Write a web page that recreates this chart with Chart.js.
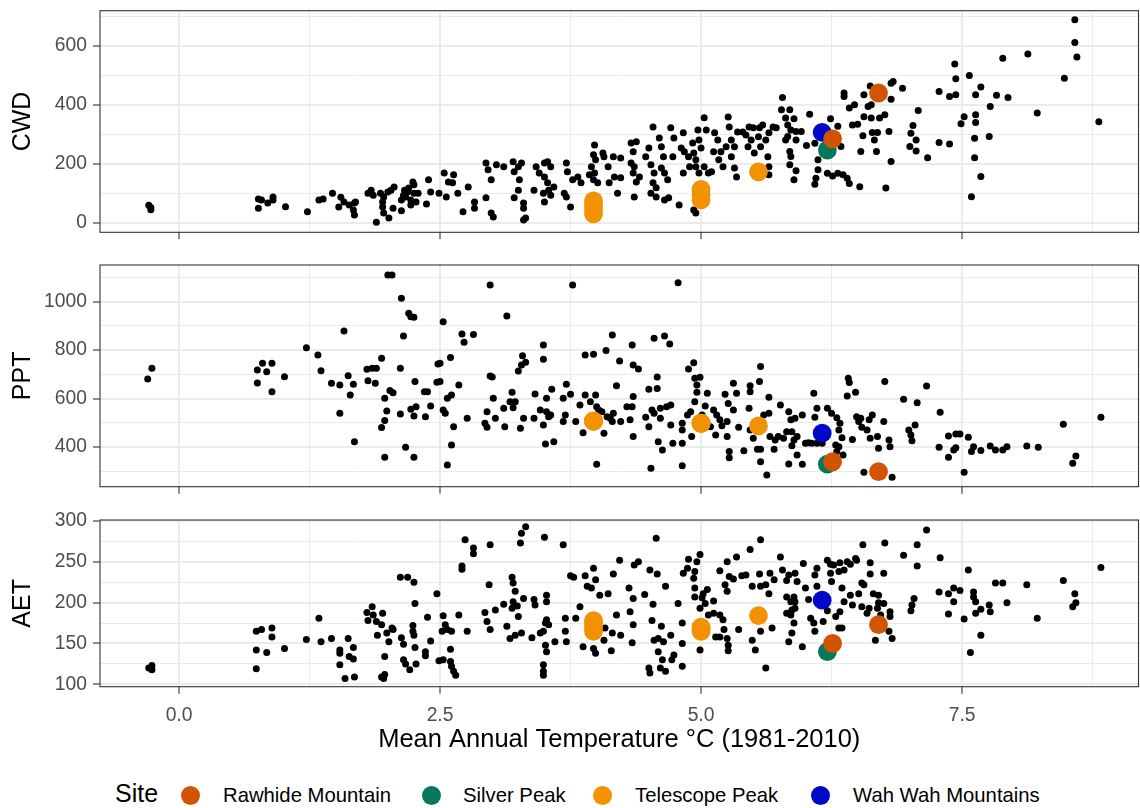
<!DOCTYPE html>
<html>
<head>
<meta charset="utf-8">
<script src="https://cdn.jsdelivr.net/npm/chart.js@4.4.0/dist/chart.umd.min.js"></script>
<style>
  body { margin: 0; background: #fff; font-family: 'Liberation Sans', Arial, sans-serif; }
  #wrap { position: relative; width: 1140px; height: 808px; overflow: hidden; }
  canvas { position: absolute; left: 0; }
  .lg { position: absolute; white-space: nowrap; line-height: 1; color: #000; }
  .dot { position: absolute; width: 19px; height: 19px; border-radius: 50%; }
</style>
</head>
<body>
<div id="wrap">
  <canvas id="cwdChart" width="1140" height="250" style="top:0"></canvas>
  <canvas id="pptChart" width="1140" height="250" style="top:250px"></canvas>
  <canvas id="aetChart" width="1140" height="260" style="top:500px"></canvas>
  <div id="legend"></div>
</div>
<script>
// sites: mean annual temperature vs climate water balance
const cwdTemp = [
  -0.29, -0.27, -0.27,
  0.76, 0.76, 0.79, 0.85, 0.90, 0.90, 1.02, 1.23, 1.34, 1.38, 1.47,
  1.55, 1.53, 1.58, 1.63, 1.68, 1.69, 1.67, 1.68,
  1.81, 1.84, 1.86, 1.93, 1.96, 1.95, 2.00, 2.03, 2.06, 1.95, 1.96, 2.01, 2.05, 1.89,
  2.13, 2.15, 2.16, 2.17, 2.19, 2.20, 2.24, 2.25, 2.22, 2.25, 2.29, 2.13, 2.22, 2.27,
  2.37, 2.39, 2.41, 2.49,
  2.54, 2.63, 2.58, 2.62, 2.56, 2.67,
  2.77, 2.83, 2.83, 2.72,
  2.94, 2.96, 3.04, 2.99, 2.94, 2.99, 3.01,
  3.11, 3.20, 3.25, 3.28, 3.21, 3.26, 3.25, 3.21, 3.30, 3.30, 3.32, 3.30,
  3.40, 3.42, 3.45, 3.50, 3.53, 3.56, 3.50, 3.53, 3.54, 3.56, 3.50, 3.49, 3.59,
  3.71, 3.72, 3.69, 3.71, 3.75, 3.77, 3.82, 3.85,
  3.98, 3.97, 3.99, 3.95, 3.98, 3.97, 4.01, 3.93, 4.06, 4.07, 4.11, 4.12, 4.16, 4.17,
  4.23, 4.20, 4.23, 4.33, 4.38, 4.35, 4.33, 4.36, 4.35, 4.38, 4.36, 4.41,
  4.47, 4.50, 4.52, 4.54, 4.55, 4.54, 4.57, 4.52, 4.57, 4.60, 4.62, 4.64, 4.62, 4.65, 4.68, 4.71, 4.73, 4.65, 4.69, 4.74, 4.79,
  4.83, 4.81, 4.84, 4.83, 4.88, 4.89, 4.92, 4.93, 4.95, 4.97, 4.98, 5.00, 4.95, 4.98, 5.03, 5.05, 5.03, 5.07, 5.10, 5.12, 5.13, 4.93, 4.95,
  5.16, 5.17, 5.19, 5.21, 5.24, 5.26, 5.27, 5.29, 5.29, 5.32, 5.32, 5.34, 5.35, 5.40, 5.43, 5.45,
  5.46, 5.50, 5.48, 5.51, 5.55, 5.56, 5.57, 5.59, 5.62, 5.65, 5.64, 5.65, 5.65, 5.69, 5.72,
  5.78, 5.77, 5.85, 5.81, 5.89, 5.83, 5.86, 5.91, 5.96, 5.83, 5.91, 5.81, 5.85, 5.86, 5.85, 5.91, 5.89,
  6.04, 6.01, 6.09, 6.12, 6.12, 6.10, 6.09,
  6.24, 6.31, 6.34, 6.21, 6.26, 6.31, 6.36, 6.40, 6.42, 6.52,
  6.37, 6.37, 6.42, 6.47, 6.56, 6.60, 6.63, 6.62, 6.56,
  6.45, 6.50, 6.55, 6.64, 6.69, 6.63, 6.71, 6.76, 6.66, 6.53, 6.68,
  6.80, 6.82, 6.82, 6.84, 6.93, 6.82, 6.77,
  7.08, 7.03, 7.01, 7.06, 7.00, 7.06, 7.17,
  7.28, 7.38, 7.44, 7.43, 7.44, 7.57, 7.68, 7.63, 7.83, 7.94, 7.77,
  7.52, 7.63, 7.49, 7.63, 7.62, 7.76, 7.28, 7.38, 7.62, 7.68, 7.59,
  7.89, 8.13, 8.22, 8.48, 8.58, 8.58, 8.60, 8.81
];
const cwdValue = [
  60, 52, 45,
  81, 50, 78, 68, 88, 78, 55, 38, 78, 81, 101,
  87, 54, 71, 61, 68, 71, 44, 27,
  101, 111, 94, 101, 88, 71, 105, 111, 122, 54, 34, 17, 50, 2,
  78, 94, 111, 88, 105, 118, 139, 129, 78, 101, 101, 41, 61, 71,
  64, 146, 105, 101,
  169, 163, 139, 136, 88, 101,
  122, 50, 71, 38,
  203, 180, 197, 146, 85, 34, 20,
  190, 207, 190, 203, 173, 146, 111, 85, 68, 50, 17, 10,
  111, 190, 169, 203, 207, 190, 156, 136, 111, 94, 71, 101, 122,
  203, 173, 101, 88, 54, 146, 156, 136,
  264, 231, 214, 190, 169, 146, 136, 163, 237, 224, 190, 136, 224, 156,
  220, 101, 153, 271, 275, 241, 203, 190, 169, 139, 88, 156,
  224, 254, 197, 325, 169, 136, 119, 101, 88, 288, 258, 224, 186, 169, 146, 322, 224, 78, 85, 288, 61,
  305, 254, 241, 169, 224, 190, 271, 237, 214, 315, 281, 254, 190, 169, 190, 315, 356, 169, 173, 241, 305, 44, 34,
  281, 214, 241, 190, 258, 359, 325, 281, 224, 258, 186, 156, 308, 308, 298, 258,
  325, 322, 281, 237, 292, 322, 258, 332, 281, 305, 224, 190, 163, 325, 322,
  425, 383, 383, 355, 353, 332, 315, 310, 310, 293, 281, 281, 242, 225, 197, 177, 146,
  368, 262, 270, 214, 180, 151, 131,
  353, 327, 259, 168, 159, 168, 163, 151, 134, 123,
  440, 428, 389, 400, 360, 394, 400, 464, 434,
  332, 334, 295, 306, 306, 355, 355, 366, 281, 242, 242,
  310, 419, 473, 479, 456, 208, 118,
  381, 330, 304, 281, 259, 244, 221,
  445, 428, 434, 538, 488, 499, 460, 434, 432, 425, 394,
  360, 366, 336, 340, 287, 293, 272, 267, 221, 157, 89,
  558, 572, 372, 490, 688, 611, 562, 343
];

const pptTemp = [
  -0.30, -0.26,
  0.75, 0.75, 0.80, 0.84, 0.89, 0.89, 1.01,
  1.22, 1.33, 1.36,
  1.46, 1.54, 1.54, 1.58, 1.62, 1.64, 1.67, 1.68,
  1.80, 1.81, 1.85, 1.88, 1.89, 1.94, 1.94, 1.97, 1.97, 1.99, 1.97, 2.02, 2.05, 2.00, 2.04,
  2.12, 2.13, 2.15, 2.12, 2.17, 2.20, 2.22, 2.25, 2.22, 2.25, 2.26, 2.27, 2.25, 2.35, 2.38, 2.36, 2.41, 2.47, 2.48,
  2.50, 2.50, 2.53, 2.53, 2.55, 2.57, 2.61, 2.60, 2.68, 2.63, 2.61, 2.57, 2.71, 2.73, 2.82, 2.76,
  2.95, 2.93, 2.95, 3.03, 2.98, 3.00, 3.01, 2.98, 3.14, 3.11, 3.12, 3.17, 3.19, 3.22, 3.20, 3.25, 3.28, 3.29, 3.32, 3.27, 3.30,
  3.40, 3.41, 3.46, 3.49, 3.49, 3.49, 3.52, 3.52, 3.56, 3.54, 3.57, 3.51, 3.59,
  3.68, 3.70, 3.68, 3.71, 3.75, 3.80, 3.77, 3.84, 3.87, 3.89, 3.89, 3.97, 3.94,
  3.99, 4.00, 4.02, 4.05, 4.00, 4.07, 4.09, 4.10, 4.13, 4.15, 4.16, 4.15,
  4.22, 4.19, 4.23, 4.29, 4.34, 4.32, 4.34, 4.35, 4.35, 4.40, 4.35,
  4.47, 4.50, 4.50, 4.53, 4.55, 4.55, 4.58, 4.58, 4.61, 4.61, 4.59, 4.63, 4.65, 4.70, 4.67, 4.71, 4.71, 4.73, 4.52, 4.78,
  4.82, 4.82, 4.82, 4.82, 4.87, 4.88, 4.90, 4.93, 4.94, 4.96,
  4.96, 4.94, 4.91, 4.99, 5.01, 5.06, 5.04, 5.09, 5.12, 5.14,
  5.15, 5.18, 5.20, 5.23, 5.25, 5.25, 5.26, 5.27, 5.27, 5.31,
  5.31, 5.34, 5.36, 5.41, 5.46, 5.47, 5.47, 5.47, 5.50, 5.54,
  5.57, 5.57, 5.56, 5.57, 5.63, 5.60, 5.65, 5.65, 5.66, 5.70,
  5.71, 5.74,
  5.76, 5.84, 5.86, 5.90, 5.97, 5.82, 5.87, 5.79, 5.89, 5.87,
  5.92, 6.00, 6.03, 6.06, 6.11, 6.16, 6.08, 6.11, 6.09, 6.21,
  6.25, 6.30, 6.33, 6.32, 6.35, 6.29, 6.32, 6.30, 6.36, 6.45,
  6.40, 6.41, 6.42, 6.48, 6.49, 6.53, 6.51, 6.54, 6.59, 6.61,
  6.64, 6.62, 6.69, 6.70, 6.75, 6.76, 6.80, 6.81, 5.92, 5.84,
  5.97, 6.56, 6.83, 6.94, 7.07, 7.16, 7.29, 6.99, 7.01, 7.02,
  7.05, 7.28, 7.37, 7.44, 7.48, 7.56, 7.37, 7.42, 7.44, 7.59,
  7.61, 7.68, 7.77, 7.82, 7.89, 7.93, 8.12, 8.23, 8.47, 8.83,
  8.59, 8.56, 7.52
];
const pptValue = [
  681, 725,
  664, 718, 746, 711, 746, 628, 690,
  810, 780, 715,
  663, 656, 539, 879, 694, 615, 659, 422,
  721, 673, 725, 663, 725, 766, 480, 601, 509, 549, 358, 633, 624, 1110, 1110,
  725, 1014, 858, 536, 399, 952, 938, 936, 556, 528, 670, 566, 358, 628, 628, 525, 569, 667, 743,
  746, 670, 917, 553, 539, 601, 615, 770, 656, 484, 408, 326, 867, 832, 865, 519,
  546, 498, 481, 519, 693, 689, 601, 1069, 941, 560, 484, 587, 626, 587, 562, 714, 739, 777, 750, 477, 519,
  519, 619, 553, 821, 762, 491, 601, 546, 532, 525, 638, 412, 422,
  601, 532, 505, 659, 618, 505, 1069, 573, 459, 780, 615, 783, 587,
  615, 566, 553, 546, 329, 457, 798, 525, 519, 862, 539, 505,
  755, 653, 505, 566, 821, 512, 566, 608, 739, 722, 443,
  523, 484, 638, 553, 539, 849, 689, 642, 560, 519, 422, 388, 858, 825, 566, 573, 491, 415, 312, 1078,
  498, 470, 415, 323, 532, 722, 546, 748, 684, 656,
  626, 587, 443, 688, 532, 622, 569, 484, 553, 450,
  532, 512, 488, 618, 505, 443, 580, 381, 356, 663,
  553, 622, 481, 384, 560, 653, 628, 470, 436, 391,
  391, 732, 670, 339, 284, 532, 605, 539, 443, 391,
  429, 443,
  573, 546, 512, 519, 532, 463, 463, 436, 429, 405,
  443, 415, 418, 415, 415, 415, 622, 560, 523, 560,
  539, 521, 498, 470, 438, 408, 401, 381, 367, 431,
  611, 684, 666, 626, 525, 519, 505, 481, 470, 512,
  532, 436, 443, 395, 505, 670, 429, 401, 367, 330,
  329, 296, 275, 597, 583, 652, 543, 470, 450, 426,
  491, 399, 445, 454, 454, 440, 358, 388, 397, 381,
  401, 385, 404, 388, 388, 401, 404, 399, 494, 523,
  363, 333, 296
];

const aetTemp = [
  -0.29, -0.26, -0.26,
  0.74, 0.79, 0.74, 0.74, 0.84, 0.89, 0.89, 1.01, 1.22, 1.34,
  1.36, 1.46, 1.54, 1.54, 1.54, 1.62, 1.63, 1.67, 1.67, 1.59,
  1.68, 1.80, 1.85, 1.86, 1.81, 1.89, 1.94, 1.95, 1.90, 1.99,
  2.01, 2.04, 2.05, 1.97, 1.94, 1.96, 1.97, 2.12, 2.19, 2.25,
  2.26, 2.24, 2.24, 2.25, 2.26, 2.13, 2.15, 2.15, 2.17, 2.21,
  2.27, 2.36, 2.36, 2.38, 2.41, 2.47, 2.49, 2.53, 2.55, 2.57,
  2.52, 2.61, 2.68, 2.60, 2.53, 2.60, 2.61, 2.63, 2.65, 2.74,
  2.82, 2.82, 2.71, 2.71, 2.76, 2.98, 2.97, 2.93, 2.95, 2.98,
  3.03, 3.11, 3.14, 3.19, 3.20, 3.22, 3.20, 3.19, 3.24, 3.25,
  3.17, 3.22, 3.28, 3.30, 3.27, 3.28, 3.32, 3.40, 3.41, 3.38,
  3.46, 3.50, 3.52, 3.52, 3.52, 3.51, 3.54, 3.49, 3.51, 3.52,
  3.49, 3.49, 3.49, 3.60, 3.68, 3.70, 3.70, 3.71, 3.75, 3.78,
  3.80, 3.84, 3.89, 3.91, 3.97, 3.99, 3.95, 4.03, 3.87, 3.97,
  3.99, 4.07, 4.08, 4.11, 4.15, 4.14, 4.16, 4.19, 4.23, 4.22,
  4.31, 4.32, 4.35, 4.35, 4.34, 4.36, 4.40, 4.46, 4.51, 4.58,
  4.54, 4.53, 4.57, 4.66, 4.62, 4.55, 4.59, 4.64, 4.59, 4.63,
  4.50, 4.51, 4.61, 4.66, 4.71, 4.74, 4.72, 4.78, 4.83, 4.82,
  4.82, 4.82, 4.88, 4.87, 4.94, 4.93, 4.94, 4.94, 4.96, 4.99,
  4.99, 5.01, 5.02, 5.04, 5.06, 5.12, 5.07, 5.12, 5.18, 5.21,
  5.22, 5.18, 5.14, 5.25, 5.26, 5.26, 4.99, 5.18, 5.25, 5.27,
  5.31, 5.34, 5.36, 5.23, 5.25, 5.39, 5.43, 5.47, 5.49, 5.57,
  5.56, 5.57, 5.57, 5.62, 5.66, 5.65, 5.68, 5.70, 5.49, 5.52,
  5.62, 5.76, 5.78, 5.84, 5.90, 5.82, 5.92, 5.82, 5.89, 5.86,
  5.90, 5.87, 5.82, 5.86, 5.90, 5.89, 5.87, 5.84, 5.97, 5.98,
  6.00, 6.03, 6.05, 6.08, 6.09, 6.11, 6.09, 6.11, 6.21, 6.24,
  6.27, 6.24, 6.25, 6.33, 6.32, 6.37, 6.40, 6.43, 6.48, 6.49,
  6.35, 6.43, 6.37, 6.33, 6.29, 6.32, 6.35, 6.21, 6.17, 6.45,
  6.51, 6.54, 6.54, 6.56, 6.62, 6.62, 6.75, 6.55, 6.65, 6.70,
  6.70, 6.69, 6.61, 6.59, 6.72, 6.81, 6.81, 6.80, 6.83, 6.67,
  6.75, 6.94, 7.07, 7.07, 6.76, 7.16, 7.29, 7.04, 7.02, 7.01,
  7.28, 7.37, 7.42, 7.48, 7.42, 7.37, 7.52, 7.56, 7.61, 7.61,
  7.63, 7.63, 7.68, 7.76, 7.77, 7.82, 7.89, 7.93, 8.12, 7.68,
  7.58, 8.22, 8.47, 8.58, 8.59, 8.56, 8.83
];
const aetValue = [
  120, 123, 118,
  165, 167, 142, 119, 139, 169, 158, 144, 155, 181,
  152, 156, 142, 138, 124, 156, 134, 145, 131, 107,
  109, 188, 195, 185, 178, 177, 173, 187, 160, 163,
  152, 169, 167, 134, 109, 107, 112, 231, 231, 225,
  199, 172, 165, 160, 145, 157, 149, 130, 125, 118,
  125, 140, 135, 182, 153, 211, 129, 184, 173, 167,
  165, 165, 185, 143, 130, 128, 122, 116, 111, 277,
  267, 260, 245, 241, 165, 271, 222, 188, 177, 167,
  191, 198, 171, 231, 224, 214, 201, 193, 196, 183,
  156, 160, 163, 205, 273, 285, 293, 204, 197, 157,
  163, 280, 209, 201, 179, 175, 173, 165, 148, 140,
  124, 116, 111, 152, 271, 181, 165, 152, 233, 231,
  181, 195, 233, 220, 242, 228, 218, 209, 146, 144,
  138, 154, 169, 211, 163, 141, 235, 185, 160, 252,
  218, 189, 205, 173, 151, 246, 250, 210, 240, 235,
  198, 178, 279, 220, 171, 154, 156, 152, 140, 130,
  120, 114, 120, 116, 160, 136, 130, 199, 236, 150,
  122, 175, 253, 242, 238, 230, 218, 207, 250, 259,
  193, 206, 211, 199, 216, 202, 185, 187, 185, 179,
  167, 158, 158, 156, 148, 141, 142, 239, 250, 232,
  229, 256, 167, 222, 214, 233, 234, 265, 220, 277,
  235, 220, 165, 222, 236, 211, 169, 228, 154, 142,
  120, 256, 240, 234, 236, 227, 226, 207, 207, 201,
  201, 191, 187, 185, 193, 175, 163, 152, 146, 248,
  218, 204, 181, 175, 165, 242, 234, 220, 252, 247,
  246, 236, 226, 249, 238, 240, 250, 247, 254, 252,
  218, 209, 201, 189, 183, 169, 169, 190, 177, 197,
  211, 195, 224, 222, 249, 235, 236, 271, 211, 209,
  200, 193, 193, 187, 185, 189, 183, 165, 156, 154,
  199, 258, 271, 245, 273, 289, 255, 205, 197, 190,
  213, 211, 218, 215, 201, 186, 180, 240, 213, 207,
  201, 187, 192, 197, 189, 224, 224, 200, 222, 160,
  139, 181, 227, 211, 200, 195, 243
];

// highlighted study sites
const siteNames = ['Rawhide Mountain', 'Silver Peak', 'Telescope Peak', 'Wah Wah Mountains'];
const siteColors = ['#D35400', '#03785A', '#F29200', '#0008C8'];

const rawhideTemp = [6.26, 6.70];
const rawhideCwd = [285, 440];
const rawhidePpt = [339, 298];
const rawhideAet = [150, 173];

const silverTemp = [6.21];
const silverCwd = [247];
const silverPpt = [329];
const silverAet = [140];

const telescopeTemp = [3.97, 3.97, 3.97, 3.97, 5.00, 5.00, 5.00, 5.55];
const telescopeCwd = [31, 45, 60, 75, 78, 96, 114, 173];
const telescopePpt = [507, 507, 507, 507, 498, 498, 498, 487];
const telescopeAet = [165, 171, 178, 175, 165, 170, 168, 184];

const wahwahTemp = [6.16];
const wahwahCwd = [307];
const wahwahPpt = [457];
const wahwahAet = [203];

const xTicks = [0, 1.25, 2.5, 3.75, 5, 6.25, 7.5, 8.75];
const xMajor = [0, 2.5, 5, 7.5];

Chart.defaults.font.family = "'Liberation Sans', Arial, sans-serif";

const siteTemps = [rawhideTemp, silverTemp, telescopeTemp, wahwahTemp];
const drawOrder = [0, 2, 1, 3]; // first dataset ends up on top

function toPoints(xs, ys) {
  return xs.map((x, i) => ({ x: x, y: ys[i] }));
}

function gridFor(majors) {
  const isMajor = c => c.tick && majors.indexOf(c.tick.value) >= 0;
  return {
    color: '#ebebeb',
    lineWidth: c => isMajor(c) ? 2 : 1,
    tickColor: c => isMajor(c) ? '#333333' : 'rgba(0,0,0,0)',
    tickWidth: 1.1,
    tickLength: 7,
    drawTicks: true
  };
}

const panelBorder = {
  id: 'panelBorder',
  afterDraw(chart) {
    const a = chart.chartArea;
    const ctx = chart.ctx;
    ctx.save();
    ctx.strokeStyle = '#333333';
    ctx.lineWidth = 1.1;
    ctx.strokeRect(a.left, a.top, a.right - a.left, a.bottom - a.top);
    ctx.restore();
  }
};

function makePanel(id, label, temps, values, siteVals, yMin, yMax, yTicks, yMajor, padTop, xHeight, showX) {
  const datasets = drawOrder.map(k => ({
    label: siteNames[k],
    data: toPoints(siteTemps[k], siteVals[k]),
    backgroundColor: siteColors[k],
    pointRadius: 9.4,
    pointHoverRadius: 9.4,
    borderWidth: 0
  }));
  datasets.push({
    label: 'other sites',
    data: toPoints(temps, values),
    backgroundColor: '#000000',
    pointRadius: 3.5,
    pointHoverRadius: 3.5,
    borderWidth: 0
  });

  return new Chart(document.getElementById(id), {
    type: 'scatter',
    data: { datasets: datasets },
    plugins: [panelBorder],
    options: {
      responsive: false,
      animation: false,
      devicePixelRatio: 1,
      events: [],
      layout: { autoPadding: false, padding: { left: 0, right: 1.5, top: padTop, bottom: 0 } },
      plugins: { legend: { display: false }, tooltip: { enabled: false } },
      scales: {
        x: {
          type: 'linear',
          min: -0.757,
          max: 9.19,
          afterBuildTicks: s => { s.ticks = xTicks.map(v => ({ value: v })); },
          afterFit: s => { s.height = xHeight; s.paddingLeft = 0; s.paddingRight = 0; },
          border: { display: false },
          grid: gridFor(xMajor),
          ticks: {
            display: showX,
            autoSkip: false,
            maxRotation: 0,
            padding: 10.5,
            color: '#4d4d4d',
            font: { size: 19.3 },
            callback: v => xMajor.indexOf(v) >= 0 ? v.toFixed(1) : ''
          },
          title: {
            display: showX,
            text: 'Mean Annual Temperature °C (1981-2010)',
            color: '#000000',
            font: { size: 25.5 },
            padding: { top: 0, bottom: 4.5 }
          }
        },
        y: {
          min: yMin,
          max: yMax,
          afterBuildTicks: s => { s.ticks = yTicks.map(v => ({ value: v })); },
          afterFit: s => { s.width = 100; s.paddingTop = 0; s.paddingBottom = 0; },
          border: { display: false },
          grid: gridFor(yMajor),
          ticks: {
            autoSkip: false,
            padding: 6,
            color: '#4d4d4d',
            font: { size: 19.3 },
            callback: v => yMajor.indexOf(v) >= 0 ? String(v) : ''
          },
          title: {
            display: true,
            text: label,
            color: '#000000',
            font: { size: 25 },
            padding: { top: 8, bottom: 0 }
          }
        }
      }
    }
  });
}

makePanel('cwdChart', 'CWD', cwdTemp, cwdValue,
  [rawhideCwd, silverCwd, telescopeCwd, wahwahCwd],
  -31.6, 718.6, [0, 100, 200, 300, 400, 500, 600, 700], [0, 200, 400, 600],
  10.7, 17.7, false);

makePanel('pptChart', 'PPT', pptTemp, pptValue,
  [rawhidePpt, silverPpt, telescopePpt, wahwahPpt],
  236, 1151.5, [300, 400, 500, 600, 700, 800, 900, 1000, 1100], [400, 600, 800, 1000],
  15, 13.3, false);

makePanel('aetChart', 'AET', aetTemp, aetValue,
  [rawhideAet, silverAet, telescopeAet, wahwahAet],
  97.1, 301.2, [100, 125, 150, 175, 200, 225, 250, 275, 300], [100, 150, 200, 250, 300],
  20, 73.3, true);

// legend below the panels
const legendDotX = [190, 431, 602, 820];
const legendTextX = [223, 463, 635, 853];
const legend = document.getElementById('legend');
let html = '<span class="lg" style="left:115px;top:781px;font-size:25px">Site</span>';
siteNames.forEach((name, i) => {
  html += '<div class="dot" style="left:' + (legendDotX[i] - 9.5) + 'px;top:785.5px;background:' + siteColors[i] + '"></div>';
  html += '<span class="lg" style="left:' + legendTextX[i] + 'px;top:784.5px;font-size:20.3px">' + name + '</span>';
});
legend.innerHTML = html;
</script>
</body>
</html>
